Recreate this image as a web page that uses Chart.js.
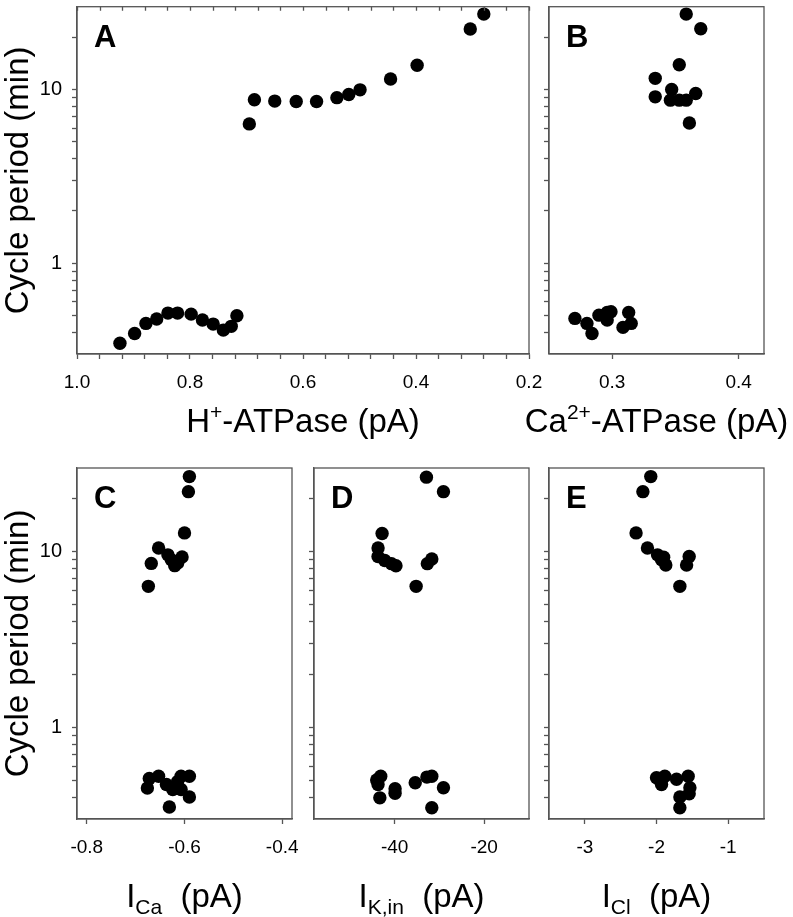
<!DOCTYPE html>
<html>
<head>
<meta charset="utf-8">
<script src="https://cdn.jsdelivr.net/npm/chart.js@4.4.1/dist/chart.umd.min.js"></script>
<style>
  body { margin: 0; background: #fff; }
  #wrap { position: relative; width: 793px; height: 917px; }
  #wrap canvas { position: absolute; left: 0; top: 0; }
</style>
</head>
<body>
<div id="wrap">
  <canvas id="chartA" width="793" height="917"></canvas>
  <canvas id="chartB" width="793" height="917"></canvas>
  <canvas id="chartC" width="793" height="917"></canvas>
  <canvas id="chartD" width="793" height="917"></canvas>
  <canvas id="chartE" width="793" height="917"></canvas>
</div>
<script>
// ---- data ----
// A: H+-ATPase (pA) vs cycle period (min)
var hAtp     = [0.924, 0.898, 0.878, 0.859, 0.839, 0.822, 0.798, 0.778, 0.759, 0.741, 0.727, 0.717,
                0.695, 0.686, 0.650, 0.612, 0.576, 0.540, 0.519, 0.499, 0.445, 0.398, 0.304, 0.280];
var periodA  = [0.346, 0.394, 0.45, 0.477, 0.516, 0.516, 0.509, 0.471, 0.446, 0.412, 0.433, 0.498,
                6.34, 8.73, 8.58, 8.53, 8.53, 8.98, 9.36, 9.96, 11.5, 13.8, 22.3, 27.2];
// B: Ca2+-ATPase
var caAtp    = [0.2705, 0.280, 0.284, 0.2895, 0.296, 0.299, 0.296, 0.313, 0.315, 0.3085,
                0.3585, 0.370, 0.353, 0.334, 0.334, 0.347, 0.346, 0.353, 0.3585, 0.366, 0.361];
var periodB  = [0.481, 0.45, 0.394, 0.502, 0.52, 0.525, 0.471, 0.52, 0.45, 0.427,
                27.2, 22.4, 13.9, 11.6, 9.08, 10.0, 8.69, 8.69, 8.69, 9.49, 6.42];
// C: I_Ca
var iCa      = [-0.590, -0.592, -0.600, -0.653, -0.668, -0.674, -0.634, -0.627, -0.620, -0.605, -0.614,
                -0.672, -0.653, -0.676, -0.637, -0.631, -0.624, -0.607, -0.590, -0.590, -0.607, -0.614];
var periodC  = [26.8, 22.0, 12.8, 10.5, 8.58, 6.35, 9.6, 9.0, 8.33, 9.33, 8.63,
                0.51, 0.526, 0.45, 0.472, 0.351, 0.442, 0.526, 0.526, 0.40, 0.442, 0.49];
// D: I_K,in
var iK       = [-32.9, -29.1, -42.8, -43.7, -43.7, -42.2, -40.7, -39.7, -35.2, -31.7, -32.7,
                -43.1, -43.7, -43.3, -39.9, -39.9, -35.4, -32.8, -31.7, -29.1, -31.7, -44.0];
var periodD  = [26.6, 22.0, 12.7, 10.5, 9.4, 8.92, 8.55, 8.32, 6.35, 9.09, 8.55,
                0.526, 0.472, 0.396, 0.446, 0.42, 0.483, 0.52, 0.526, 0.452, 0.348, 0.5];
// E: I_Cl
var iCl      = [-2.08, -2.19, -2.285, -2.126, -1.986, -1.93, -1.87, -1.544, -1.58, -1.674, -1.90,
                -2.0, -1.884, -1.93, -1.72, -1.558, -1.534, -1.544, -1.674, -1.674, -1.94];
var periodE  = [26.8, 22.0, 12.8, 10.5, 9.6, 9.0, 8.4, 9.4, 8.4, 6.35, 9.3,
                0.515, 0.526, 0.472, 0.505, 0.526, 0.452, 0.418, 0.40, 0.348, 0.49];

// tick marks / labels
var yTicks   = [0.4, 0.5, 0.6, 0.7, 0.8, 0.9, 1, 2, 3, 4, 5, 6, 7, 8, 9, 10, 20];
var yLabels  = [1, 10];
var xLabelsA = [1.0, 0.8, 0.6, 0.4, 0.2];
var xLabelsB = [0.3, 0.4];
var xLabelsC = [-0.8, -0.6, -0.4];
var xLabelsD = [-40, -20];
var xLabelsE = [-3, -2, -1];

Chart.defaults.font.family = "'Liberation Sans', Arial, sans-serif";
var frame = '#555';

// minor ticks every 0.04 on panel A
var xTicksA = [];
for (var t = 0.2; t < 1.001; t += 0.04) xTicksA.push(Math.round(t * 100) / 100);

var panelDeco = {
  id: 'panelDeco',
  afterDraw: function (chart) {
    var o = chart.options.plugins.panelDeco;
    var a = chart.chartArea, ctx = chart.ctx;
    ctx.save();
    ctx.strokeStyle = frame;
    ctx.lineWidth = 1.3;
    ctx.strokeRect(a.left, a.top, a.right - a.left, a.bottom - a.top);
    // inward ticks along the top edge (panel A)
    if (o.topTicks) {
      var sx = chart.scales.x;
      ctx.beginPath();
      sx.ticks.forEach(function (tk) {
        var px = Math.round(sx.getPixelForValue(tk.value)) + 0.5;
        ctx.moveTo(px, a.top);
        ctx.lineTo(px, a.top + 4);
      });
      ctx.stroke();
    }
    // panel letter
    ctx.fillStyle = '#000';
    ctx.font = "bold 31px 'Liberation Sans', Arial";
    ctx.textBaseline = 'alphabetic';
    ctx.fillText(o.letter, a.left + 17, a.top + 40);
    // x title with sub/superscripts
    var big = "33px 'Liberation Sans', Arial", small = "21px 'Liberation Sans', Arial";
    var w = 0;
    o.title.forEach(function (s) { ctx.font = s[1] ? small : big; w += ctx.measureText(s[0]).width; });
    var x = (a.left + a.right) / 2 - w / 2;
    o.title.forEach(function (s) {
      ctx.font = s[1] ? small : big;
      var dy = s[1] === 1 ? -13 : (s[1] === -1 ? 7 : 0);
      ctx.fillText(s[0], x, o.titleY + dy);
      x += ctx.measureText(s[0]).width;
    });
    ctx.restore();
  }
};

function noEdgePad(s) {
  s.paddingTop = 0; s.paddingBottom = 0; s.paddingLeft = 0; s.paddingRight = 0;
}

function makePanel(id, xs, ys, o) {
  var pts = xs.map(function (v, i) { return {x: v, y: ys[i]}; });
  return new Chart(document.getElementById(id).getContext('2d'), {
    type: 'scatter',
    data: {
      datasets: [{
        data: pts,
        backgroundColor: '#000',
        borderWidth: 0,
        pointRadius: 6.7,
        pointHoverRadius: 6.7
      }]
    },
    options: {
      responsive: false,
      animation: false,
      events: [],
      layout: {padding: o.pad},
      plugins: {
        legend: {display: false},
        tooltip: {enabled: false},
        panelDeco: {letter: o.letter, title: o.title, titleY: o.titleY, topTicks: !!o.topTicks}
      },
      scales: {
        x: {
          type: 'linear', min: o.xMin, max: o.xMax, reverse: !!o.reverse,
          afterFit: function (s) { s.height = 40; noEdgePad(s); },
          afterBuildTicks: function (s) { s.ticks = o.xTicks.map(function (v) { return {value: v}; }); },
          grid: {drawOnChartArea: false, tickLength: 5, color: frame, tickColor: frame, tickWidth: 1.3},
          border: {color: frame, width: 1.3},
          ticks: {
            autoSkip: false, maxRotation: 0, padding: 12, color: '#000', font: {size: 19},
            callback: function (v) { return o.xLabels.indexOf(v) >= 0 ? o.fmt(v) : ''; }
          }
        },
        y: {
          type: 'logarithmic', min: 0.3, max: 30,
          afterFit: function (s) { s.width = o.yW; noEdgePad(s); },
          afterBuildTicks: function (s) { s.ticks = yTicks.map(function (v) { return {value: v}; }); },
          grid: {drawOnChartArea: false, tickLength: 5, color: frame, tickColor: frame, tickWidth: 1.3},
          border: {color: frame, width: 1.3},
          title: {
            display: o.yTitle, text: 'Cycle period (min)', color: '#000',
            font: {size: 33, lineHeight: 1}, padding: 0
          },
          ticks: {
            display: o.yTitle, autoSkip: false, padding: 10, color: '#000', font: {size: 20},
            callback: function (v) { return yLabels.indexOf(v) >= 0 ? String(v) : ''; }
          }
        }
      }
    },
    plugins: [panelDeco]
  });
}

function f1(v) { return v.toFixed(1); }
function f0(v) { return String(v); }

makePanel('chartA', hAtp, periodA, {
  letter: 'A', pad: {top: 3, right: 264, bottom: 523, left: 2}, yW: 75, yTitle: true, topTicks: true,
  xMin: 0.2, xMax: 1.0, reverse: true, xTicks: xTicksA, xLabels: xLabelsA, fmt: f1,
  title: [['H', 0], ['+', 1], ['-ATPase (pA)', 0]], titleY: 432
});
makePanel('chartB', caAtp, periodB, {
  letter: 'B', pad: {top: 3, right: 29, bottom: 523, left: 539}, yW: 10, yTitle: false,
  xMin: 0.25, xMax: 0.42, xTicks: xLabelsB, xLabels: xLabelsB, fmt: f1,
  title: [['Ca', 0], ['2+', 1], ['-ATPase (pA)', 0]], titleY: 432
});
makePanel('chartC', iCa, periodC, {
  letter: 'C', pad: {top: 468, right: 501, bottom: 58, left: 2}, yW: 75, yTitle: true,
  xMin: -0.82, xMax: -0.38, xTicks: xLabelsC, xLabels: xLabelsC, fmt: f1,
  title: [['I', 0], ['Ca', -1], ['  (pA)', 0]], titleY: 907
});
makePanel('chartD', iK, periodD, {
  letter: 'D', pad: {top: 468, right: 264, bottom: 58, left: 304}, yW: 10, yTitle: false,
  xMin: -58, xMax: -10, xTicks: xLabelsD, xLabels: xLabelsD, fmt: f0,
  title: [['I', 0], ['K,in', -1], ['  (pA)', 0]], titleY: 907
});
makePanel('chartE', iCl, periodE, {
  letter: 'E', pad: {top: 468, right: 29, bottom: 58, left: 539}, yW: 10, yTitle: false,
  xMin: -3.5, xMax: -0.5, xTicks: xLabelsE, xLabels: xLabelsE, fmt: f0,
  title: [['I', 0], ['Cl', -1], ['  (pA)', 0]], titleY: 907
});
</script>
</body>
</html>
